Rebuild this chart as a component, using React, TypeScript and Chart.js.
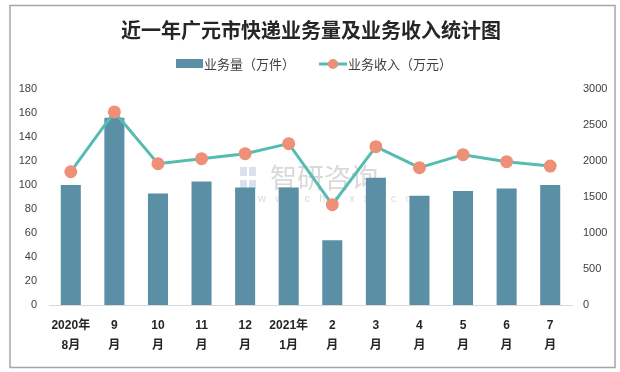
import React, { useEffect, useRef } from "react";
import { Chart, registerables } from "chart.js";

Chart.register(...registerables);

const TITLE = "近一年广元市快递业务量及业务收入统计图";
const categories: string[][] = [
  ["2020年", "8月"], ["9", "月"], ["10", "月"], ["11", "月"], ["12", "月"],
  ["2021年", "1月"], ["2", "月"], ["3", "月"], ["4", "月"], ["5", "月"], ["6", "月"], ["7", "月"],
];
const volumeLabel = "业务量（万件）";
const revenueLabel = "业务收入（万元）";
const volume = [100, 156, 93, 103, 98, 98, 54, 106, 91, 95, 97, 100];
const revenue = [1851, 2681, 1963, 2032, 2102, 2241, 1394, 2199, 1907, 2088, 1991, 1930];

const BAR_COLOR = "#5b8fa6";
const LINE_COLOR = "#56bcb2";
const POINT_COLOR = "#ee9078";
const SANS = "'Liberation Sans', 'Noto Sans CJK SC', sans-serif";
const CJK = "'Noto Sans CJK SC', sans-serif";

const decorPlugin = {
  id: "decor",
  beforeDatasetsDraw(chart: any) {
    const ctx = chart.ctx;
    ctx.save();
    // watermark logo
    ctx.fillStyle = "rgba(190,205,225,0.6)";
    ctx.fillRect(240, 167, 7, 9);
    ctx.fillRect(240, 180, 7, 9);
    ctx.fillRect(249, 167, 7, 9);
    ctx.fillRect(249, 180, 7, 9);
    ctx.fillStyle = "rgba(170,170,170,0.45)";
    ctx.font = `27px ${CJK}`;
    ctx.textBaseline = "middle";
    ctx.textAlign = "left";
    ctx.fillText("智研咨询", 270, 178);
    ctx.font = `11px ${SANS}`;
    ctx.fillText("w   w   w   .   c   h   y   x   x   .   c   o   m", 241, 199);
    ctx.restore();
  },
  afterDraw(chart: any) {
    const ctx = chart.ctx;
    ctx.save();
    // outer border
    ctx.strokeStyle = "#a6a6a6";
    ctx.lineWidth = 1.5;
    ctx.strokeRect(10, 5.5, 605, 362);
    // title
    ctx.fillStyle = "#262626";
    ctx.font = `bold 20px ${CJK}`;
    ctx.textAlign = "center";
    ctx.textBaseline = "middle";
    ctx.fillText(TITLE, 311, 30);
    // legend
    ctx.textAlign = "left";
    ctx.font = `13px ${CJK}`;
    ctx.fillStyle = BAR_COLOR;
    ctx.fillRect(176, 59, 27, 9);
    ctx.fillStyle = "#404040";
    ctx.fillText(volumeLabel, 204, 64);
    ctx.strokeStyle = LINE_COLOR;
    ctx.lineWidth = 3;
    ctx.beginPath();
    ctx.moveTo(319, 64);
    ctx.lineTo(347, 64);
    ctx.stroke();
    ctx.fillStyle = POINT_COLOR;
    ctx.beginPath();
    ctx.arc(333, 64, 5, 0, Math.PI * 2);
    ctx.fill();
    ctx.fillStyle = "#404040";
    ctx.fillText(revenueLabel, 348, 64);
    ctx.restore();
  },
};

export default function App() {
  const ref = useRef<HTMLCanvasElement | null>(null);
  useEffect(() => {
    document.body.style.margin = "0";
    if (!ref.current) return;
    const chart = new Chart(ref.current, {
      type: "bar",
      data: {
        labels: categories,
        datasets: [
          {
            type: "line",
            label: revenueLabel,
            data: revenue,
            yAxisID: "y1",
            borderColor: LINE_COLOR,
            borderWidth: 3,
            pointBackgroundColor: POINT_COLOR,
            pointBorderColor: POINT_COLOR,
            pointRadius: 5,
            tension: 0,
            order: 0,
          } as any,
          {
            type: "bar",
            label: volumeLabel,
            data: volume,
            yAxisID: "y",
            backgroundColor: BAR_COLOR,
            barPercentage: 0.46,
            categoryPercentage: 1,
            order: 1,
          },
        ],
      },
      options: {
        responsive: false,
        animation: false,
        layout: { padding: { top: 89, left: 0, right: 0, bottom: 0 } },
        plugins: {
          legend: { display: false },
          title: { display: false },
          tooltip: { enabled: false },
        },
        scales: {
          x: {
            grid: { display: false, drawTicks: false },
            border: { display: true, color: "#d9d9d9", width: 1 },
            ticks: {
              color: "#262626",
              font: { family: SANS, size: 12, weight: "bold", lineHeight: 1.7 },
              padding: 10,
              maxRotation: 0,
              autoSkip: false,
            },
            afterFit(axis: any) {
              axis.height = 67;
            },
          },
          y: {
            position: "left",
            min: 0,
            max: 180,
            grid: { display: false, drawTicks: false },
            border: { display: false },
            ticks: {
              stepSize: 20,
              color: "#404040",
              font: { family: SANS, size: 11 },
              padding: 12,
              callback: (v: any) => String(v),
            },
            afterFit(axis: any) {
              axis.width = 49;
            },
          },
          y1: {
            position: "right",
            min: 0,
            max: 3000,
            grid: { display: false, drawTicks: false },
            border: { display: false },
            ticks: {
              stepSize: 500,
              color: "#404040",
              font: { family: SANS, size: 11 },
              padding: 11,
              callback: (v: any) => String(v),
            },
            afterFit(axis: any) {
              axis.width = 48;
            },
          },
        },
      },
      plugins: [decorPlugin],
    });
    return () => chart.destroy();
  }, []);
  return (
    <div style={{ width: 620, height: 372 }}>
      <canvas ref={ref} width={620} height={372} style={{ display: "block" }} />
    </div>
  );
}
